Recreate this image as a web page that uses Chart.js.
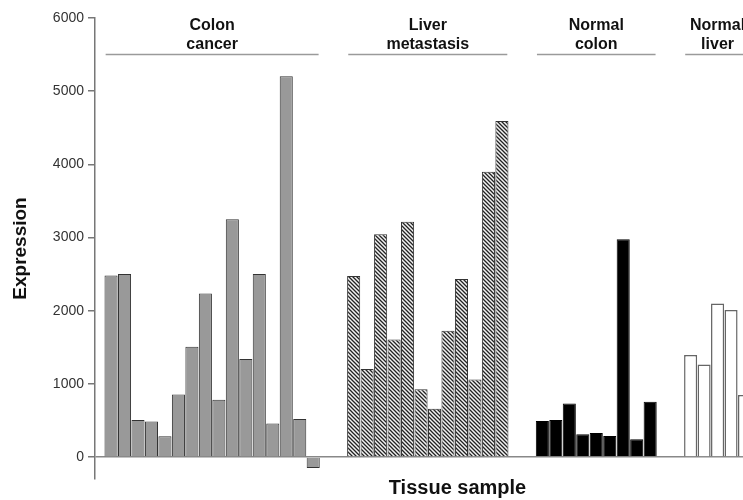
<!DOCTYPE html>
<html>
<head>
<meta charset="utf-8">
<script src="https://cdn.jsdelivr.net/npm/chart.js@4.4.0/dist/chart.umd.min.js"></script>
<style>
    body { margin: 0; overflow: hidden; background: #fff; }
    #wrap { width: 820px; height: 500px; }
</style>
</head>
<body>
<div id="wrap"><canvas id="expressionChart" width="820" height="500"></canvas></div>
<script>
// values, one array per tissue group
const colonCancer = [2480, 2500, 505, 487, 285, 855, 1506, 2235, 783, 3250, 1340, 2500, 460, 5205, 520, -150];
const liverMetastasis = [2473, 1202, 3046, 1608, 3214, 925, 660, 1725, 2432, 1061, 3898, 4594];
const normalColon = [491, 505, 733, 310, 328, 287, 2978, 242, 755];
const normalLiver = [1393, 1266, 2097, 2008, 847];

const groupLabels = [['Colon', 'cancer'], ['Liver', 'metastasis'], ['Normal', 'colon'], ['Normal', 'liver']];
const groupStart = [0, 18, 32, 43];   // sample slot of the first bar in each group
const yTicks = [0, 1000, 2000, 3000, 4000, 5000, 6000];

const FONT = '"Liberation Sans", Arial, Helvetica, sans-serif';
var canvas = document.getElementById('expressionChart');
var ctx = canvas.getContext('2d');

function hatchPattern() {
    var c = document.createElement('canvas');
    c.width = 4;
    c.height = 4;
    var g = c.getContext('2d');
    g.fillStyle = '#f2f2f2';
    g.fillRect(0, 0, 4, 4);
    g.strokeStyle = '#222';
    g.lineWidth = 1.3;
    g.beginPath();
    g.moveTo(-1, -1); g.lineTo(5, 5);
    g.moveTo(-1, 3); g.lineTo(1, 5);
    g.moveTo(3, -1); g.lineTo(5, 1);
    g.stroke();
    return ctx.createPattern(c, 'repeat');
}

function toPoints(values, start) {
    return values.map(function (v, i) { return { x: start + i, y: v }; });
}

// header text + rule over each group
const groupHeaders = {
    id: 'groupHeaders',
    afterDatasetsDraw(chart) {
        var c = chart.ctx, xs = chart.scales.x, ys = chart.scales.y;
        var lineY = ys.getPixelForValue(5500);
        chart.data.datasets.forEach(function (ds, i) {
            var first = ds.data[0].x, last = ds.data[ds.data.length - 1].x;
            var x1 = xs.getPixelForValue(first - 0.4), x2 = xs.getPixelForValue(last + 0.4);
            c.save();
            c.strokeStyle = '#9a9a9a';
            c.lineWidth = 1.5;
            c.beginPath();
            c.moveTo(x1, lineY);
            c.lineTo(x2, lineY);
            c.stroke();
            c.fillStyle = '#111';
            c.font = 'bold 16px ' + FONT;
            c.textAlign = 'center';
            c.textBaseline = 'middle';
            var cx = (x1 + x2) / 2;
            c.fillText(groupLabels[i][0], cx, lineY - 29);
            c.fillText(groupLabels[i][1], cx, lineY - 10);
            c.restore();
        });
    }
};

new Chart(canvas, {
    type: 'bar',
    data: {
        datasets: [{
            data: toPoints(colonCancer, groupStart[0]),
            backgroundColor: '#999999',
            borderColor: '#333',
            borderWidth: 1
        }, {
            data: toPoints(liverMetastasis, groupStart[1]),
            backgroundColor: hatchPattern(),
            borderColor: '#333',
            borderWidth: 1
        }, {
            data: toPoints(normalColon, groupStart[2]),
            backgroundColor: '#000',
            borderColor: '#000',
            borderWidth: 1
        }, {
            data: toPoints(normalLiver, groupStart[3]),
            backgroundColor: '#fff',
            borderColor: '#666',
            borderWidth: 1.5
        }]
    },
    options: {
        responsive: false,
        animation: false,
        layout: { padding: { top: 18, left: 0, right: 0, bottom: 0 } },
        datasets: { bar: { grouped: false, barPercentage: 0.97, categoryPercentage: 1 } },
        plugins: {
            legend: { display: false },
            tooltip: { enabled: false }
        },
        scales: {
            x: {
                type: 'linear',
                offset: false,
                min: -1.19,
                max: 52.6,
                ticks: { display: false },
                grid: { display: false, offset: false },
                border: { display: false },
                title: {
                    display: true,
                    text: 'Tissue sample',
                    color: '#111',
                    font: { family: FONT, size: 20, weight: 'bold' },
                    padding: { top: 0, bottom: 0 }
                },
                afterFit: function (s) { s.height = 21; }
            },
            y: {
                min: -300,
                max: 6000,
                afterBuildTicks: function (s) {
                    s.ticks = yTicks.map(function (v) { return { value: v }; });
                },
                ticks: {
                    callback: function (v) { return String(v); },
                    color: '#333',
                    font: { family: FONT, size: 14 },
                    padding: 4
                },
                grid: {
                    color: function (c) { return c.tick && c.tick.value === 0 ? '#888' : 'transparent'; },
                    lineWidth: 1.5,
                    tickColor: '#777',
                    tickLength: 7
                },
                border: { display: true, color: '#777', width: 1.5 },
                title: {
                    display: true,
                    text: 'Expression',
                    color: '#111',
                    font: { family: FONT, size: 19, weight: 'bold' },
                    padding: { top: 9, bottom: 0 }
                },
                afterFit: function (s) { s.width = 95; }
            }
        }
    },
    plugins: [groupHeaders]
});
</script>
</body>
</html>
